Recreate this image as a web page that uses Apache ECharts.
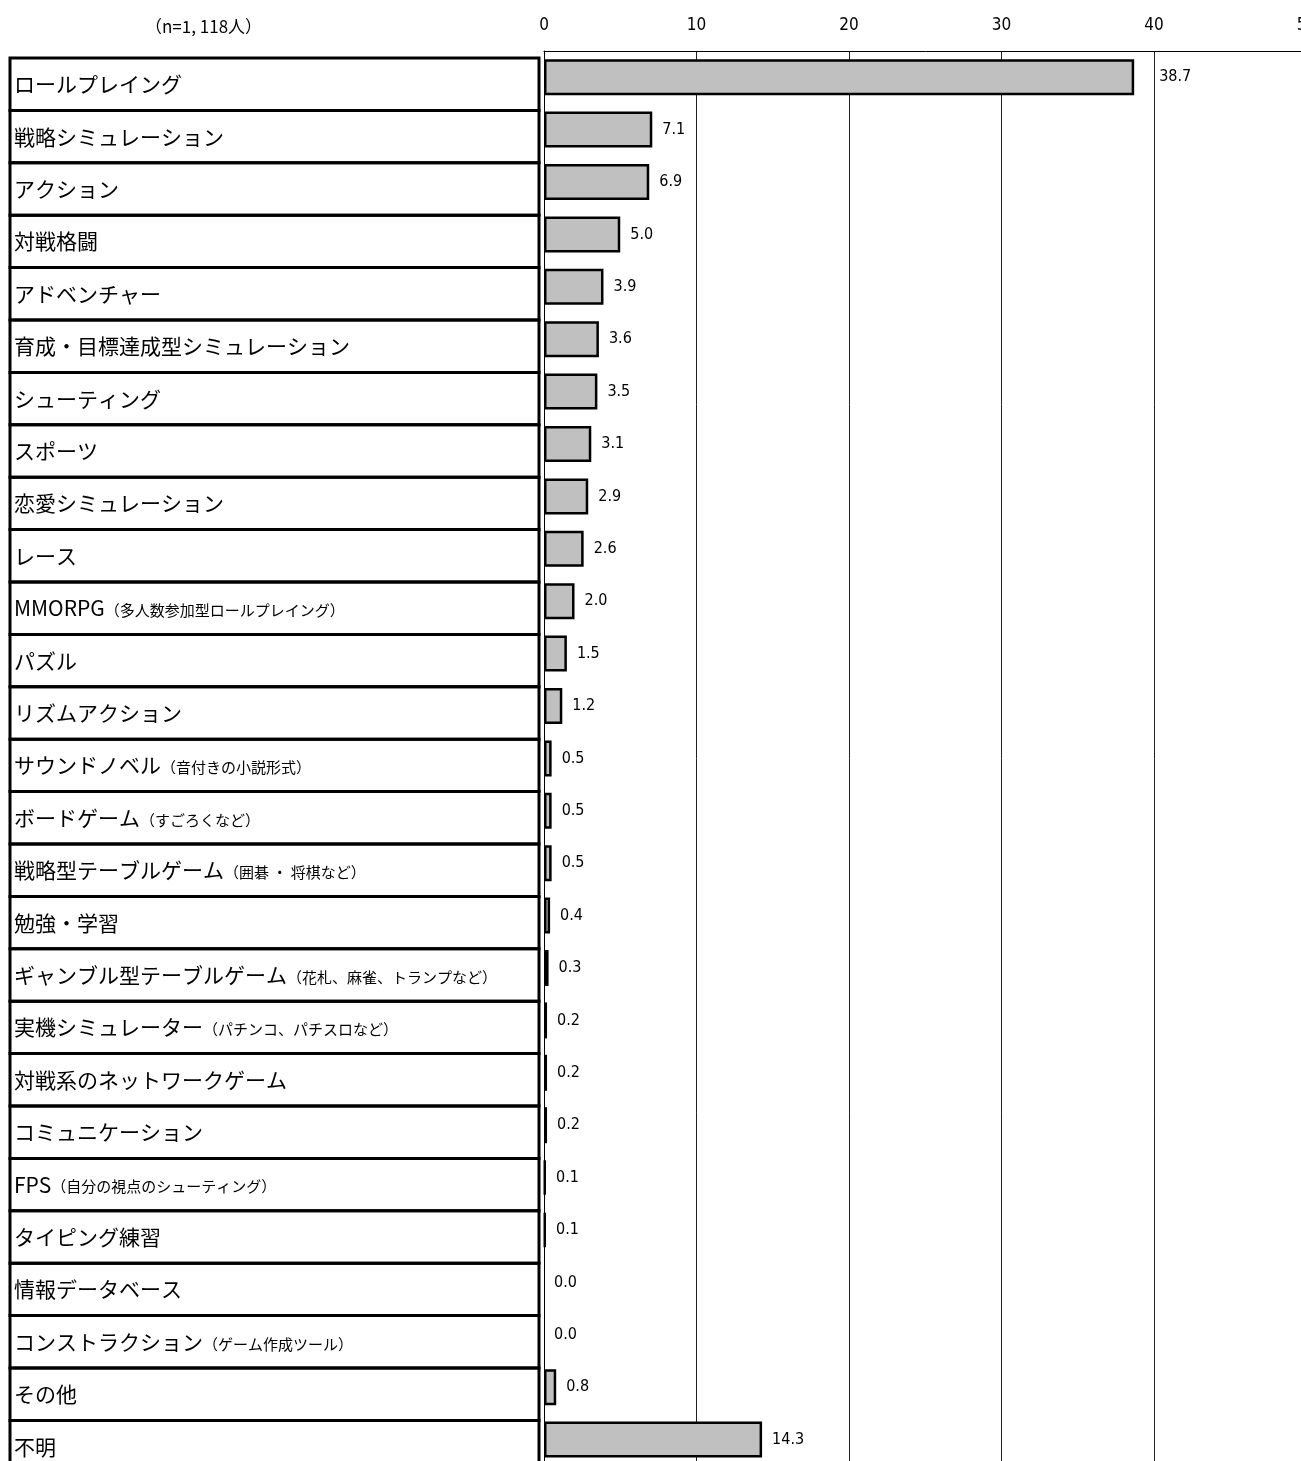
<!DOCTYPE html>
<html>
<head>
<meta charset="utf-8">
<script src="https://cdn.jsdelivr.net/npm/echarts@6/dist/echarts.min.js"></script>
<style>
html,body{margin:0;padding:0;background:#fff;overflow:hidden;}
#chart{width:1320px;height:1475px;}
</style>
</head>
<body>
<div id="chart"></div>
<script>
const categories = [
  'ロールプレイング','戦略シミュレーション','アクション','対戦格闘','アドベンチャー',
  '育成・目標達成型シミュレーション','シューティング','スポーツ','恋愛シミュレーション','レース',
  'MMORPG','パズル','リズムアクション','サウンドノベル','ボードゲーム',
  '戦略型テーブルゲーム','勉強・学習','ギャンブル型テーブルゲーム','実機シミュレーター','対戦系のネットワークゲーム',
  'コミュニケーション','FPS','タイピング練習','情報データベース','コンストラクション',
  'その他','不明'
];
const subLabels = [
  '','','','','',
  '','','','','',
  '（多人数参加型ロールプレイング）','','','（音付きの小説形式）','（すごろくなど）',
  '（囲碁 ・ 将棋など）','','（花札、麻雀、トランプなど）','（パチンコ、パチスロなど）','',
  '','（自分の視点のシューティング）','','','（ゲーム作成ツール）',
  '',''
];
const values = [
  38.7, 7.1, 6.9, 5.0, 3.9,
  3.6, 3.5, 3.1, 2.9, 2.6,
  2.0, 1.5, 1.2, 0.5, 0.5,
  0.5, 0.4, 0.3, 0.2, 0.2,
  0.2, 0.1, 0.1, 0.0, 0.0,
  0.8, 14.3
];
const sampleNote = '（n=1, 118人）';
const axisMin = 0, axisMax = 50, axisStep = 10;

const band = 52.4;
const plotH = band * categories.length;
const numFont = '"Liberation Sans Narrow","DejaVu Sans Condensed","Liberation Sans",sans-serif';
const jpFont = '"Noto Sans CJK JP","Noto Sans",sans-serif';

const chart = echarts.init(document.getElementById('chart'), null, {renderer:'canvas'});
chart.setOption({
  animation: false,
  backgroundColor: '#fff',
  title: {
    text: sampleNote,
    left: 140, top: 13,
    textStyle: {fontFamily: jpFont, fontSize: 17, fontWeight: 'normal', color: '#000'}
  },
  grid: [
    {left: 544, top: 51, width: 762.5, height: plotH},
    {left: 539, top: 58, width: 1, height: plotH}
  ],
  xAxis: [
    {
      gridIndex: 0, type: 'value', position: 'top',
      min: axisMin, max: axisMax, interval: axisStep,
      axisLine: {show: true, lineStyle: {color: '#000', width: 1}},
      axisTick: {show: false},
      axisLabel: {fontFamily: numFont, fontSize: 17, color: '#000', margin: 17},
      splitLine: {show: true, lineStyle: {color: '#222', width: 1}}
    },
    {gridIndex: 1, type: 'value', show: false}
  ],
  yAxis: [
    {
      gridIndex: 0, type: 'category', inverse: true, data: categories,
      axisLine: {show: true, lineStyle: {color: '#000', width: 1}},
      axisTick: {show: false},
      axisLabel: {show: false},
      splitLine: {show: false}
    },
    {
      gridIndex: 1, type: 'category', inverse: true, data: categories,
      axisLine: {show: false},
      axisTick: {show: false},
      splitLine: {show: false},
      axisLabel: {
        show: true,
        interval: 0,
        showMinLabel: true,
        showMaxLabel: true,
        hideOverlap: false,
        align: 'left',
        verticalAlign: 'middle',
        margin: 529,
        width: 525,
        padding: [0, 0, 0, 4],
        borderColor: '#000',
        borderWidth: 3,
        overflow: 'none',
        formatter: function (value, idx) {
          const sub = subLabels[idx];
          return '{m|' + value + '}' + (sub ? '{s|' + sub + '}' : '');
        },
        rich: {
          m: {fontFamily: jpFont, fontSize: 21, color: '#000', lineHeight: band},
          s: {fontFamily: jpFont, fontSize: 15, color: '#000', lineHeight: band, padding: [4, 0, 0, 0]}
        }
      }
    }
  ],
  series: [
    {
      type: 'bar',
      xAxisIndex: 0, yAxisIndex: 0,
      barWidth: 36,
      data: values.map(function (v, i) {
        const d = {value: v};
        if (v === 0) d.itemStyle = {borderWidth: 0};
        if (i === 0) d.label = {distance: 25};
        return d;
      }),
      itemStyle: {color: '#c0c0c0', borderColor: '#000', borderWidth: 2.5},
      label: {
        show: true, position: 'right', distance: 10,
        fontFamily: numFont, fontSize: 16, color: '#000',
        formatter: function (p) { return p.value.toFixed(1); }
      }
    }
  ]
});
</script>
</body>
</html>
